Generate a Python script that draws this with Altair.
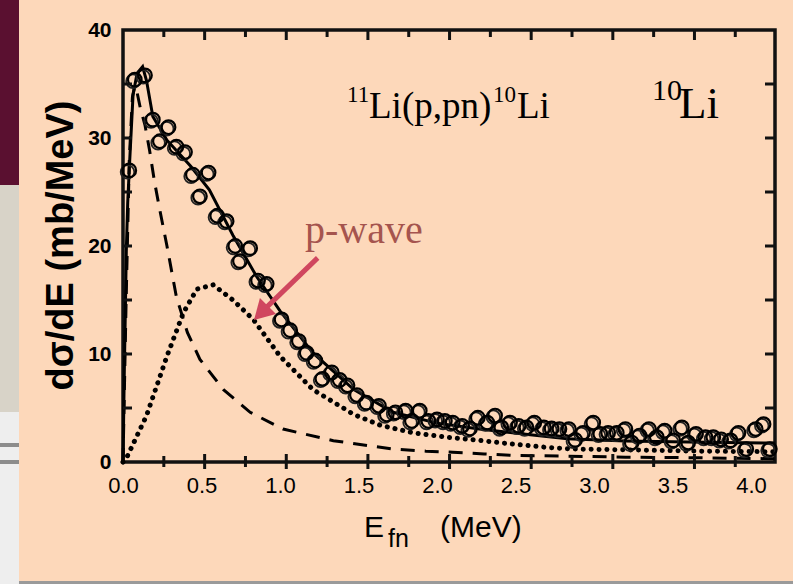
import altair as alt
import pandas as pd

BG = "#FDD8BA"
FRAME = "#111111"

# ---------------- data ----------------
data_E = [0.04, 0.075, 0.14, 0.19, 0.235, 0.29, 0.34, 0.395, 0.445, 0.545, 0.49, 0.60, 0.66, 0.715,
          0.81, 0.745, 0.86, 0.915, 1.01, 1.065, 1.12, 1.17, 1.225, 1.27, 1.33, 1.38, 1.43, 1.49,
          1.55, 1.63, 1.68, 1.735, 1.80, 1.84, 1.89, 1.945, 2.0, 2.05, 2.10, 2.16, 2.21, 2.26, 2.32,
          2.37, 2.41, 2.465, 2.52, 2.57, 2.62, 2.68, 2.73, 2.78, 2.84, 2.88, 2.93, 2.995, 3.04, 3.09,
          3.145, 3.20, 3.24, 3.29, 3.35, 3.40, 3.45, 3.505, 3.56, 3.60, 3.65, 3.71, 3.76, 3.81, 3.87,
          3.92, 3.97, 4.03, 4.08, 4.12]
data_sigma = [27.0, 35.4, 35.8, 31.7, 29.7, 31.0, 29.2, 28.7, 26.6, 26.8, 24.6, 22.8, 22.3, 20.0,
              19.8, 18.6, 16.8, 16.5, 13.2, 12.2, 11.2, 10.1, 9.4, 7.7, 8.3, 7.6, 7.1, 6.2,
              5.5, 5.2, 4.4, 4.6, 4.75, 3.8, 4.75, 3.8, 3.95, 3.8, 3.65, 3.35, 3.1, 4.1, 3.65,
              4.3, 3.2, 3.65, 3.35, 3.2, 3.65, 3.2, 3.1, 3.05, 3.05, 2.05, 2.7, 3.65, 2.6, 2.7,
              2.7, 3.05, 1.8, 2.45, 3.05, 2.3, 2.9, 2.0, 3.2, 1.8, 2.6, 2.3, 2.3, 2.1, 2.0,
              2.7, 1.2, 3.05, 3.5, 1.2]

total_E = [0.0, 0.008, 0.015, 0.021, 0.03, 0.043, 0.064, 0.09, 0.125, 0.15, 0.19, 0.28, 0.43, 0.55,
           0.70, 0.85, 1.0, 1.21, 1.47, 1.72, 2.0, 2.27, 2.55, 2.83, 3.2, 3.6, 4.15]
total_sigma = [0.0, 8.0, 14.0, 19.5, 24.0, 28.0, 34.0, 36.0, 36.6, 35.3, 32.0, 29.8, 27.4, 25.2,
               21.0, 17.2, 14.0, 10.1, 6.7, 4.6, 3.6, 3.05, 2.6, 2.15, 1.95, 1.85, 1.75]

s_E = [0.0, 0.02, 0.04, 0.06, 0.075, 0.09, 0.11, 0.14, 0.17, 0.2, 0.235, 0.28, 0.34, 0.41, 0.49,
       0.64, 0.81, 1.02, 1.34, 1.72, 1.93, 2.1, 2.3, 2.47, 2.78, 3.2, 3.6, 4.15]
s_sigma = [0.0, 15.0, 28.0, 33.8, 34.8, 34.2, 32.8, 31.2, 28.8, 26.0, 23.3, 20.0, 15.3, 12.0, 9.5,
           6.7, 4.6, 3.05, 1.97, 1.2, 1.0, 0.9, 0.75, 0.62, 0.55, 0.45, 0.4, 0.3]

p_E = [0.0, 0.02, 0.15, 0.28, 0.384, 0.47, 0.575, 0.70, 0.83, 1.0, 1.21, 1.47, 1.64, 1.85, 2.06,
       2.27, 2.49, 2.70, 2.87, 3.3, 3.7, 4.15]
p_sigma = [0.0, 0.3, 4.3, 9.8, 13.8, 16.0, 16.4, 15.0, 13.2, 9.8, 6.7, 4.4, 3.4, 2.7, 2.3,
           2.0, 1.65, 1.35, 1.2, 1.1, 1.0, 0.95]

x_labels = [0.0, 0.5, 1.0, 1.5, 2.0, 2.5, 3.0, 3.5, 4.0]
y_labels = [0, 10, 20, 30, 40]
x_major_ticks = [0.52, 1.04, 1.56, 2.08, 2.60, 3.12, 3.64]
x_minor_ticks = [0.26, 0.78, 1.30, 1.82, 2.34, 2.86, 3.38, 3.90]
y_ticks = [5, 10, 15, 20, 25, 30, 35]

arrow_start = (1.24, 18.9)
arrow_head = (0.879, 13.8)

# ---------------- layout ----------------
W, H = 652, 432
X_MAX = 4.153
xs = alt.Scale(domain=[0, X_MAX], nice=False, zero=False)
ys = alt.Scale(domain=[0, 40], nice=False, zero=False)

x_axis = alt.Axis(values=x_labels, format=".1f", title=None, ticks=False, domain=False, grid=False,
                  labelFontSize=22, labelFont="Liberation Sans", labelColor="black",
                  labelPadding=13, labelFlush=False, labelOverlap=False)
y_axis = alt.Axis(values=y_labels, format="d", title="dσ/dE  (mb/MeV)", ticks=False, domain=False,
                  grid=False, labelFontSize=21, labelFont="Liberation Sans", labelFontWeight="bold",
                  labelColor="black", labelPadding=12, labelFlush=False, labelOverlap=False,
                  titleFontSize=38, titleFont="Liberation Sans", titleFontWeight="bold",
                  titleColor="black", titleX=-62, titleY=215, titleAngle=270,
                  titleAlign="center", titleBaseline="middle")


def X(f):
    return alt.X(f, type="quantitative", scale=xs, axis=x_axis)


def Y(f):
    return alt.Y(f, type="quantitative", scale=ys, axis=y_axis)


one = pd.DataFrame({"a": [0]})

# decorations (slide background at left / bottom)
deco = [
    alt.Chart(one).mark_rect(color="#5A1030").encode(
        x=alt.value(-123), x2=alt.value(-104), y=alt.value(-30), y2=alt.value(155)),
    alt.Chart(one).mark_rect(color="#D8D3C8").encode(
        x=alt.value(-123), x2=alt.value(-104), y=alt.value(155), y2=alt.value(382)),
    alt.Chart(one).mark_rect(color="#EEEEEE").encode(
        x=alt.value(-123), x2=alt.value(-104), y=alt.value(382), y2=alt.value(554)),
    alt.Chart(one).mark_rect(color="#8C8C8C").encode(
        x=alt.value(-123), x2=alt.value(-104), y=alt.value(413), y2=alt.value(417)),
    alt.Chart(one).mark_rect(color="#8C8C8C").encode(
        x=alt.value(-123), x2=alt.value(-104), y=alt.value(430), y2=alt.value(434)),
    alt.Chart(one).mark_rect(color="#9A9A9A").encode(
        x=alt.value(-104), x2=alt.value(670), y=alt.value(551), y2=alt.value(554)),
]

total_line = alt.Chart(pd.DataFrame({"E": total_E, "sigma": total_sigma})).mark_line(
    color="black", strokeWidth=3).encode(x=X("E"), y=Y("sigma"))
s_line = alt.Chart(pd.DataFrame({"E": s_E, "sigma": s_sigma})).mark_line(
    color="black", strokeWidth=3, strokeDash=[14, 10]).encode(x=X("E"), y=Y("sigma"))
p_line = alt.Chart(pd.DataFrame({"E": p_E, "sigma": p_sigma})).mark_line(
    color="black", strokeWidth=5, strokeDash=[0.1, 7.8], strokeCap="round").encode(
    x=X("E"), y=Y("sigma"))

pts_df = pd.DataFrame({"E": data_E, "sigma": data_sigma})
pts_back = alt.Chart(pts_df).mark_point(shape="circle", size=185, filled=False, color="#222222",
                                        strokeWidth=1.8, xOffset=-1.8, yOffset=1.5, opacity=1).encode(
    x=X("E"), y=Y("sigma"))
pts_front = alt.Chart(pts_df).mark_point(shape="circle", size=185, filled=False, color="black",
                                         strokeWidth=2.2, opacity=1).encode(x=X("E"), y=Y("sigma"))

# inward ticks
top_major = alt.Chart(pd.DataFrame({"t": x_major_ticks})).mark_rule(color=FRAME, strokeWidth=3).encode(
    x=X("t"), y=alt.value(0), y2=alt.value(10))
top_minor = alt.Chart(pd.DataFrame({"t": x_minor_ticks})).mark_rule(color=FRAME, strokeWidth=3).encode(
    x=X("t"), y=alt.value(0), y2=alt.value(7))
bot_major = alt.Chart(pd.DataFrame({"t": x_major_ticks})).mark_rule(color=FRAME, strokeWidth=3).encode(
    x=X("t"), y=alt.value(H - 8), y2=alt.value(H + 7))
bot_minor = alt.Chart(pd.DataFrame({"t": x_minor_ticks})).mark_rule(color=FRAME, strokeWidth=3).encode(
    x=X("t"), y=alt.value(H - 6), y2=alt.value(H + 5))
left_t = alt.Chart(pd.DataFrame({"t": y_ticks})).mark_rule(color=FRAME, strokeWidth=3).encode(
    y=Y("t"), x=alt.value(0), x2=alt.value(9))
right_t = alt.Chart(pd.DataFrame({"t": y_ticks})).mark_rule(color=FRAME, strokeWidth=3).encode(
    y=Y("t"), x=alt.value(W - 10), x2=alt.value(W))

# arrow
ARROW = "#D0475F"
arrow_df = pd.DataFrame({"x": [arrow_start[0]], "y": [arrow_start[1]],
                         "x2": [arrow_head[0] + 0.03], "y2": [arrow_head[1] + 0.45]})
arrow_line = alt.Chart(arrow_df).mark_rule(color=ARROW, strokeWidth=5).encode(
    x=X("x"), y=Y("y"), x2="x2", y2="y2")
arrow_tip = alt.Chart(pd.DataFrame({"x": [arrow_head[0]], "y": [arrow_head[1]]})).mark_point(
    shape="triangle-up", filled=True, size=520, angle=225, color=ARROW, opacity=1).encode(
    x=X("x"), y=Y("y"))

SERIF = "Liberation Serif"


def txt(s, x, y, size, color="black", font=SERIF, weight="normal"):
    return alt.Chart(one).mark_text(text=s, font=font, fontSize=size, color=color, align="left",
                                    baseline="alphabetic", fontWeight=weight).encode(
        x=alt.value(x), y=alt.value(y))


texts = [
    txt("11", 347 - 123, 102 - 30, 23),
    txt("Li(p,pn)", 369 - 123, 118 - 30, 37),
    txt("10", 493 - 123, 102 - 30, 23),
    txt("Li", 517 - 123, 118 - 30, 37),
    txt("10", 652 - 123, 100 - 30, 30),
    txt("Li", 679 - 123, 118 - 30, 45),
    txt("p-wave", 305 - 123, 243 - 30, 40, color="#A5544E"),
    txt("E", 364 - 123, 537 - 30, 30, font="Liberation Sans"),
    txt("fn", 388 - 123, 547 - 30, 25, font="Liberation Sans"),
    txt("(MeV)", 440 - 123, 537 - 30, 30, font="Liberation Sans"),
]

chart = alt.layer(
    *deco,
    s_line, p_line, total_line,
    pts_back, pts_front,
    top_major, top_minor, bot_major, bot_minor, left_t, right_t,
    arrow_line, arrow_tip,
    *texts,
).properties(
    width=W, height=H,
    padding={"left": 123, "top": 30, "right": 18, "bottom": 122},
    autosize=alt.AutoSizeParams(type="none"),
    background=BG,
).configure_view(stroke=FRAME, strokeWidth=3.5, fill=None)

chart.save("out.html", embed_options={"renderer": "svg", "actions": False})
